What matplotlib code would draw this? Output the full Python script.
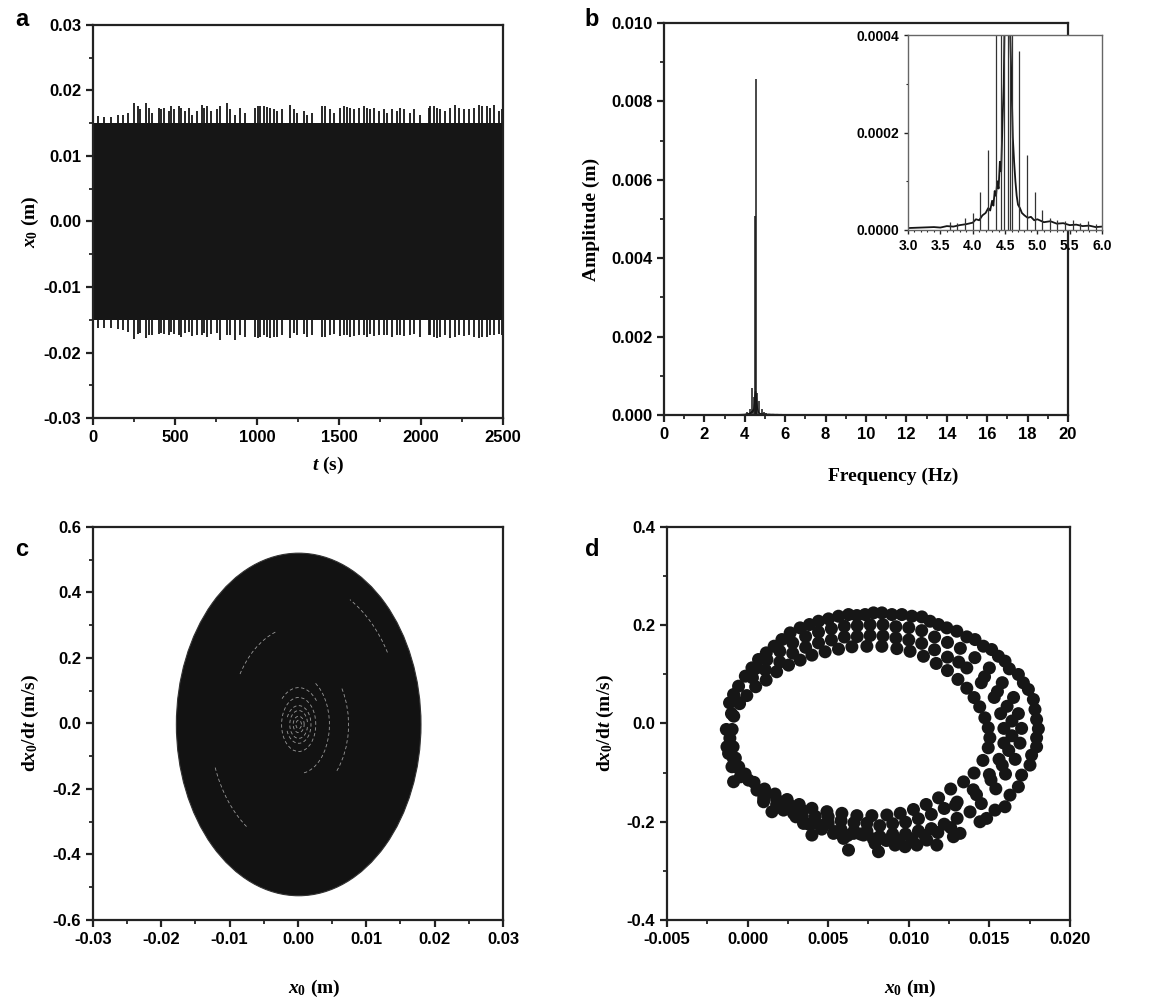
import numpy as np
import matplotlib
matplotlib.use('Agg')
import matplotlib.pyplot as plt
from matplotlib.patches import Ellipse, Arc
from matplotlib.ticker import MultipleLocator, FormatStrFormatter

C_INK = '#161616'

# ---- panel a: time history (band + spike peaks) ----
band_t = [0, 2500]
band_hi = [0.0151, 0.0151]
band_lo = [-0.0151, -0.0151]
t_pk = [0, 30, 70, 110, 150, 185, 215, 248, 272, 289, 323, 340, 360, 400, 417, 431, 461, 476,
        496, 522, 537, 563, 583, 604, 634, 665, 679, 695, 720, 756, 777, 817, 838, 868, 899,
        929, 990, 1004, 1021, 1041, 1061, 1082, 1102, 1122, 1153, 1204, 1224, 1244, 1285,
        1305, 1336, 1397, 1417, 1448, 1468, 1508, 1529, 1549, 1569, 1590, 1620, 1651, 1671,
        1691, 1712, 1742, 1773, 1793, 1824, 1854, 1874, 1895, 1935, 1956, 1996, 2047, 2057,
        2078, 2098, 2118, 2149, 2179, 2210, 2230, 2261, 2291, 2322, 2352, 2372, 2403, 2423,
        2444, 2474, 2494]
up_pk = [0.0178, 0.0161, 0.0159, 0.0160, 0.0162, 0.0163, 0.0165, 0.0181, 0.0176, 0.0171,
         0.0181, 0.0173, 0.0165, 0.0173, 0.0171, 0.0173, 0.0168, 0.0176, 0.0171, 0.0176,
         0.0173, 0.0168, 0.0173, 0.0163, 0.0168, 0.0178, 0.0173, 0.0176, 0.0168, 0.0171,
         0.0176, 0.0181, 0.0171, 0.0163, 0.0173, 0.0165, 0.0173, 0.0176, 0.0176, 0.0177,
         0.0175, 0.0173, 0.0171, 0.0168, 0.0171, 0.0178, 0.0171, 0.0165, 0.0168, 0.0163,
         0.0165, 0.0176, 0.0177, 0.0171, 0.0165, 0.0173, 0.0176, 0.0175, 0.0173, 0.0171,
         0.0173, 0.0176, 0.0173, 0.0171, 0.0173, 0.0168, 0.0171, 0.0165, 0.0171, 0.0168,
         0.0173, 0.0171, 0.0165, 0.0171, 0.0163, 0.0173, 0.0176, 0.0176, 0.0173, 0.0171,
         0.0168, 0.0173, 0.0178, 0.0173, 0.0171, 0.0171, 0.0173, 0.0178, 0.0176, 0.0176,
         0.0173, 0.0178, 0.0168, 0.0171]
lo_pk = [-0.0178, -0.0162, -0.0163, -0.0162, -0.0164, -0.0165, -0.0168, -0.0180, -0.0172,
         -0.0170, -0.0178, -0.0174, -0.0173, -0.0171, -0.0170, -0.0172, -0.0174, -0.0168,
         -0.0171, -0.0174, -0.0176, -0.0170, -0.0168, -0.0175, -0.0174, -0.0173, -0.0170,
         -0.0176, -0.0172, -0.0170, -0.0181, -0.0174, -0.0173, -0.0181, -0.0174, -0.0176,
         -0.0177, -0.0178, -0.0176, -0.0174, -0.0177, -0.0178, -0.0176, -0.0177, -0.0174,
         -0.0178, -0.0170, -0.0174, -0.0172, -0.0176, -0.0173, -0.0177, -0.0176, -0.0174,
         -0.0172, -0.0175, -0.0174, -0.0174, -0.0176, -0.0175, -0.0173, -0.0174, -0.0176,
         -0.0172, -0.0175, -0.0174, -0.0173, -0.0174, -0.0176, -0.0174, -0.0173, -0.0175,
         -0.0174, -0.0172, -0.0176, -0.0173, -0.0174, -0.0177, -0.0178, -0.0176, -0.0174,
         -0.0178, -0.0176, -0.0173, -0.0175, -0.0174, -0.0176, -0.0178, -0.0177, -0.0176,
         -0.0174, -0.0173, -0.0172, -0.0174]

# ---- panel b: spectrum (noise floor knots + discrete peaks) ----
spec_f = [0.0, 1.0, 2.0, 3.0, 3.2, 3.4, 3.5, 3.6, 3.7, 3.8, 3.9, 4.0, 4.05, 4.1, 4.15, 4.2,
          4.24, 4.27, 4.30, 4.32, 4.34, 4.36, 4.38, 4.40, 4.42, 4.44, 4.46, 4.48, 4.50, 4.53,
          4.57, 4.60, 4.62, 4.64, 4.66, 4.68, 4.70, 4.73, 4.76, 4.80, 4.85, 4.90, 4.95, 5.0,
          5.1, 5.2, 5.3, 5.4, 5.5, 5.6, 5.7, 5.8, 5.9, 6.0, 8.0, 12.0, 16.0, 20.0]
spec_a = [0.000001, 0.000001, 0.000002, 0.000004, 0.000005, 0.000006, 0.000005, 0.000008,
          0.000007, 0.000010, 0.000012, 0.000015, 0.000022, 0.000020, 0.000030, 0.000035,
          0.000045, 0.000040, 0.000060, 0.000050, 0.000080, 0.000070, 0.000100, 0.000085,
          0.000140, 0.000120, 0.000220, 0.000300, 0.000500, 0.000600, 0.000450, 0.000300,
          0.000190, 0.000140, 0.000100, 0.000070, 0.000052, 0.000045, 0.000035, 0.000030,
          0.000025, 0.000027, 0.000020, 0.000022, 0.000016, 0.000018, 0.000013, 0.000014,
          0.000010, 0.000011, 0.000008, 0.000009, 0.000006, 0.000007, 0.000003, 0.000002,
          0.000001, 0.000001]
peak_f = [3.65, 3.76, 3.88, 4.01, 4.12, 4.24, 4.36, 4.44, 4.49, 4.55, 4.57, 4.61, 4.72, 4.84,
          4.96, 5.07, 5.19, 5.31, 5.43, 5.55, 5.66, 5.78, 5.90]
peak_a = [0.000017, 0.000015, 0.000024, 0.000034, 0.000077, 0.000165, 0.00068, 0.00045,
          0.00508, 0.00858, 0.00050, 0.00055, 0.000368, 0.000153, 0.000078, 0.000041,
          0.000024, 0.000021, 0.000018, 0.000020, 0.000014, 0.000019, 0.000012]

# ---- panel c: phase portrait envelope and faint inner orbits ----
orb_cx, orb_cy = 0.0001, -0.003
orb_w, orb_h = 0.0358, 1.046
ring_w = [0.0008, 0.0016, 0.0026, 0.0036, 0.0050, 0.0068, 0.0090, 0.0146, 0.0200, 0.0260, 0.0300]
ring_h = [0.026, 0.050, 0.085, 0.115, 0.165, 0.225, 0.300, 0.440, 0.600, 0.770, 0.880]
ring_t1 = [0, 0, 10, 200, 0, 40, -80, -40, 110, 200, 30]
ring_t2 = [360, 360, 350, 520, 360, 140, 60, 30, 150, 235, 60]

# ---- panel d: Poincare points ----
out_x = [-0.00132, -0.00112, -0.00087, -0.00056, -0.00014, 0.00027, 0.00068, 0.00116, 0.00165,
         0.00213, 0.00264, 0.00326, 0.00384, 0.00440, 0.00502, 0.00564, 0.00626, 0.00678,
         0.00729, 0.00781, 0.00833, 0.00895, 0.00957, 0.01019, 0.01081, 0.01132, 0.01184,
         0.01236, 0.01298, 0.01360, 0.01411, 0.01463, 0.01514, 0.01556, 0.01597, 0.01624,
         0.01680, 0.01711, 0.01742, 0.01773, 0.01783, 0.01793, 0.01804, 0.01793, 0.01793,
         0.01762, 0.01752, 0.01700, 0.01680, 0.01628, 0.01597, 0.01535, 0.01483, 0.01442,
         0.01318, 0.01277, 0.01174, 0.01112, 0.01050, 0.00977, 0.00915, 0.00864, 0.00812,
         0.00791, 0.00719, 0.00657, 0.00626, 0.00595, 0.00533, 0.00471, 0.00399, 0.00347,
         0.00285, 0.00223, 0.00151, 0.00099, 0.00058, 0.00006, -0.00045, -0.00087, -0.00097,
         -0.00118, -0.00128]
out_y = [-0.0122, 0.0420, 0.0590, 0.0759, 0.0963, 0.1132, 0.1302, 0.1437, 0.1573, 0.1708,
         0.1844, 0.1946, 0.2014, 0.2081, 0.2129, 0.2183, 0.2217, 0.2197, 0.2217, 0.2251,
         0.2251, 0.2217, 0.2217, 0.2183, 0.2169, 0.2081, 0.2014, 0.1946, 0.1878, 0.1763,
         0.1708, 0.1573, 0.1505, 0.1369, 0.1268, 0.1112, 0.0997, 0.0827, 0.0692, 0.0488,
         0.0285, 0.0081, -0.0108, -0.0292, -0.0475, -0.0644, -0.0847, -0.1051, -0.1288,
         -0.1458, -0.1695, -0.1763, -0.1932, -0.2000, -0.2237, -0.2305, -0.2475, -0.2373,
         -0.2475, -0.2508, -0.2475, -0.2373, -0.2610, -0.2441, -0.2271, -0.2237, -0.2576,
         -0.2339, -0.2237, -0.2068, -0.2271, -0.2034, -0.1831, -0.1763, -0.1797, -0.1593,
         -0.1356, -0.1153, -0.1085, -0.1186, -0.0881, -0.0610, -0.0475]
in_x = [-0.00096, -0.00086, -0.00050, -0.00005, 0.00050, 0.00115, 0.00180, 0.00254, 0.00326,
        0.00399, 0.00481, 0.00564, 0.00647, 0.00740, 0.00833, 0.00926, 0.01008, 0.01091,
        0.01170, 0.01240, 0.01305, 0.01360, 0.01405, 0.01440, 0.01472, 0.01493, 0.01503,
        0.01493, 0.01460, 0.01405, 0.01340, 0.01260, 0.01185, 0.01108, 0.01029, 0.00947,
        0.00864, 0.00771, 0.00678, 0.00585, 0.00492, 0.00399, 0.00320, 0.00245, 0.00170,
        0.00105, 0.00040, -0.00015, -0.00055, -0.00076, -0.00090]
in_y = [-0.0122, 0.0149, 0.0403, 0.0568, 0.0748, 0.0883, 0.1053, 0.1188, 0.1290, 0.1392,
        0.1459, 0.1514, 0.1561, 0.1571, 0.1571, 0.1524, 0.1469, 0.1368, 0.1222, 0.1077,
        0.0897, 0.0718, 0.0528, 0.0339, 0.0115, -0.0088, -0.0292, -0.0495, -0.0752, -0.1009,
        -0.1189, -0.1334, -0.1514, -0.1649, -0.1751, -0.1829, -0.1863, -0.1876, -0.1876,
        -0.1829, -0.1795, -0.1727, -0.1649, -0.1548, -0.1436, -0.1334, -0.1199, -0.1029,
        -0.0883, -0.0704, -0.0475]
mida_x = [0.0005, 0.0012, 0.0020, 0.0028, 0.0036, 0.0044, 0.0052, 0.0060, 0.0068, 0.0076,
          0.0084, 0.0092, 0.0100, 0.0108, 0.0116, 0.0124, 0.0150, 0.0158, 0.0165, 0.0168,
          0.0170, 0.0169, 0.0166, 0.0160, 0.0154, 0.0145, 0.0130, 0.0122, 0.0114, 0.0106,
          0.0098, 0.0090, 0.0082, 0.0074, 0.0066, 0.0058, 0.0050, 0.0042, 0.0034, 0.0026,
          0.0018, 0.0010, -0.0011, -0.0010, -0.0008, -0.0006, -0.0009]
mida_y = [0.112, 0.130, 0.147, 0.164, 0.177, 0.186, 0.193, 0.198, 0.199, 0.201, 0.201, 0.197,
          0.195, 0.189, 0.176, 0.165, 0.113, 0.083, 0.053, 0.020, -0.010, -0.040, -0.073,
          -0.103, -0.133, -0.163, -0.193, -0.205, -0.214, -0.219, -0.225, -0.225, -0.230,
          -0.219, -0.219, -0.216, -0.203, -0.203, -0.189, -0.174, -0.165, -0.152, -0.030,
          0.020, 0.050, -0.090, -0.070]
midb_x = [0.0003, 0.0011, 0.0020, 0.0028, 0.0036, 0.0044, 0.0052, 0.0060, 0.0068, 0.0076,
          0.0084, 0.0092, 0.0100, 0.0108, 0.0116, 0.0124, 0.0136, 0.0145, 0.0153, 0.0157,
          0.0159, 0.0159, 0.0156, 0.0150, 0.0140, 0.0129, 0.0130, 0.0122, 0.0114, 0.0106,
          0.0098, 0.0090, 0.0082, 0.0074, 0.0066, 0.0058, 0.0050, 0.0042, 0.0034, 0.0026,
          0.0018, 0.0010]
midb_y = [0.093, 0.109, 0.125, 0.143, 0.155, 0.164, 0.170, 0.176, 0.177, 0.179, 0.178, 0.174,
          0.170, 0.163, 0.150, 0.135, 0.113, 0.083, 0.053, 0.020, -0.010, -0.040, -0.073,
          -0.104, -0.135, -0.166, -0.160, -0.173, -0.185, -0.194, -0.201, -0.204, -0.208,
          -0.203, -0.202, -0.198, -0.190, -0.189, -0.177, -0.166, -0.155, -0.143]
midc_x = [0.0147, 0.0155, 0.0161, 0.0164, 0.0164, 0.0162, 0.0158, 0.0151, 0.0142, 0.0132,
          0.0141, 0.0131, 0.0138, 0.0030, 0.0038, 0.0046, 0.0054, 0.0062, 0.0070, 0.0078,
          0.0086, 0.0094, 0.0102, 0.0110, 0.0118, 0.0126]
midc_y = [0.095, 0.065, 0.035, 0.005, -0.025, -0.055, -0.085, -0.115, -0.145, 0.153,
          0.134, 0.125, -0.180, -0.190, -0.205, -0.215, -0.220, -0.228, -0.225, -0.235,
          -0.238, -0.238, -0.235, -0.228, -0.222, -0.212]

plt.rcParams['font.family'] = ['Liberation Sans Narrow', 'Liberation Sans', 'DejaVu Sans']
plt.rcParams['font.weight'] = 'bold'
plt.rcParams['axes.unicode_minus'] = False
plt.rcParams['mathtext.fontset'] = 'custom'
plt.rcParams['mathtext.rm'] = 'Liberation Serif:bold'
plt.rcParams['mathtext.it'] = 'Liberation Serif:italic:bold'
plt.rcParams['mathtext.bf'] = 'Liberation Serif:bold'

LBL = dict(fontfamily='Liberation Serif', fontweight='bold', fontsize=14)


def style(ax, xmaj, xmin, ymaj, ymin, xfmt, yfmt, size=12, lw=1.6, ln=5):
    for s in ax.spines.values():
        s.set_linewidth(lw); s.set_color('#222222')
    ax.xaxis.set_major_locator(MultipleLocator(xmaj)); ax.xaxis.set_minor_locator(MultipleLocator(xmin))
    ax.yaxis.set_major_locator(MultipleLocator(ymaj)); ax.yaxis.set_minor_locator(MultipleLocator(ymin))
    ax.xaxis.set_major_formatter(FormatStrFormatter(xfmt)); ax.yaxis.set_major_formatter(FormatStrFormatter(yfmt))
    ax.tick_params(which='major', direction='out', length=ln, width=lw, labelsize=size, color='#222222')
    ax.tick_params(which='minor', direction='out', length=ln * 0.6, width=lw * 0.8, color='#222222')
    for lab in ax.get_xticklabels() + ax.get_yticklabels():
        lab.set_fontweight('bold')


fig = plt.figure(figsize=(11.51, 10.07), dpi=100)

# a
ax = fig.add_axes([0.0808, 0.5849, 0.3562, 0.3903])
ax.fill_between(band_t, band_lo, band_hi, color=C_INK, lw=0)
ax.vlines(t_pk, 0.0145, up_pk, color=C_INK, lw=1.3)
ax.vlines(t_pk, lo_pk, -0.0145, color=C_INK, lw=1.3)
ax.set_xlim(0, 2500); ax.set_ylim(-0.03, 0.03)
style(ax, 500, 250, 0.01, 0.005, '%d', '%.2f')
ax.set_xlabel(r'$t$ (s)', **LBL); ax.xaxis.set_label_coords(0.573, -0.094)
ax.set_ylabel(r'$x_0$ (m)', **LBL); ax.yaxis.set_label_coords(-0.126, 0.5)

# b
ax = fig.add_axes([0.5769, 0.5879, 0.3510, 0.3893])
ax.plot(spec_f, spec_a, color=C_INK, lw=1.0)
ax.vlines(peak_f, 0, peak_a, color=C_INK, lw=1.1)
ax.set_xlim(0, 20); ax.set_ylim(0, 0.010)
style(ax, 2, 1, 0.002, 0.001, '%d', '%.3f')
ax.set_xlabel('Frequency (Hz)', **LBL); ax.xaxis.set_label_coords(0.567, -0.135)
ax.set_ylabel('Amplitude (m)', **LBL); ax.yaxis.set_label_coords(-0.158, 0.5)

ins = fig.add_axes([0.7889, 0.7716, 0.1686, 0.1936])
ins.plot(spec_f, spec_a, color=C_INK, lw=1.3)
ins.vlines(peak_f, 0, peak_a, color='#333333', lw=0.9)
ins.set_xlim(3, 6); ins.set_ylim(0, 0.0004)
style(ins, 0.5, 0.1, 0.0002, 0.0001, '%.1f', '%.4f', size=10, lw=1.0, ln=3)
for s in ins.spines.values():
    s.set_color('#666666')

# c
ax = fig.add_axes([0.0808, 0.0864, 0.3562, 0.3903])
ax.add_patch(Ellipse((orb_cx, orb_cy), orb_w, orb_h, facecolor='#121212', edgecolor='#333333', lw=0.8))
for w, h, a1, a2 in zip(ring_w, ring_h, ring_t1, ring_t2):
    # Arc takes geometric angles in data space; convert from the ellipse parameter
    if a2 - a1 >= 360:
        g1, g2 = 0, 360
    else:
        g1 = np.degrees(np.arctan2(h * np.sin(np.radians(a1)), w * np.cos(np.radians(a1))))
        g2 = np.degrees(np.arctan2(h * np.sin(np.radians(a2)), w * np.cos(np.radians(a2))))
    ax.add_patch(Arc((orb_cx, orb_cy), w, h, theta1=g1, theta2=g2, color='#9a9a9a', lw=0.6,
                     ls=(0, (4, 3))))
ax.set_xlim(-0.03, 0.03); ax.set_ylim(-0.6, 0.6)
style(ax, 0.01, 0.005, 0.2, 0.1, '%.2f', '%.1f')
ax.set_xlabel(r'$x_0$ (m)', **LBL); ax.xaxis.set_label_coords(0.541, -0.148)
ax.set_ylabel(r'd$x_0$/d$t$ (m/s)', **LBL); ax.yaxis.set_label_coords(-0.126, 0.5)

# d
ax = fig.add_axes([0.5795, 0.0864, 0.3501, 0.3903])
for xs, ys in [(out_x, out_y), (mida_x, mida_y), (midb_x, midb_y), (midc_x, midc_y), (in_x, in_y)]:
    ax.scatter(xs, ys, s=88, color=C_INK, edgecolors='none')
ax.set_xlim(-0.005, 0.020); ax.set_ylim(-0.4, 0.4)
style(ax, 0.005, 0.0025, 0.2, 0.1, '%.3f', '%.1f')
ax.set_xlabel(r'$x_0$ (m)', **LBL); ax.xaxis.set_label_coords(0.603, -0.148)
ax.set_ylabel(r'd$x_0$/d$t$ (m/s)', **LBL); ax.yaxis.set_label_coords(-0.126, 0.5)

for lab, x, y in [('a', 22, 20), ('b', 592, 20), ('c', 22, 550), ('d', 592, 550)]:
    fig.text(x / 1151, 1 - y / 1007, lab, fontsize=17, fontweight='bold',
             fontfamily=['Liberation Sans', 'DejaVu Sans'], ha='center', va='center')

fig.savefig('out.png', dpi=100, facecolor='white')
